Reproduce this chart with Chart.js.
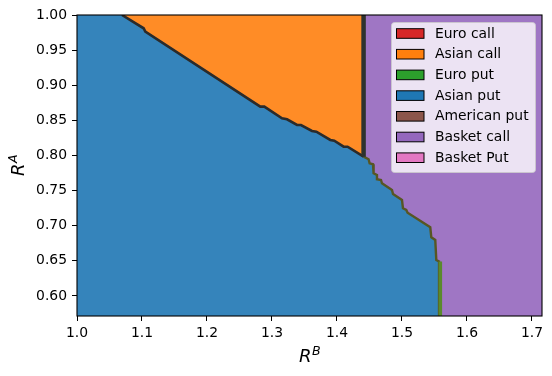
<!DOCTYPE html>
<html lang="en">
<head>
<meta charset="UTF-8">
<title>Option regions</title>
<script src="https://cdn.jsdelivr.net/npm/chart.js"></script>
<style>
  html, body { margin: 0; padding: 0; background: #fff; }
  #wrap { width: 552px; height: 376px; }
</style>
</head>
<body>
<div id="wrap"><canvas id="regions" width="552" height="376"></canvas></div>
<script>
// axis limits and ticks
const xLimits = [1.0, 1.7154];
const yLimits = [0.5715, 1.0];
const xTicks = [1.0, 1.1, 1.2, 1.3, 1.4, 1.5, 1.6, 1.7];
const yTicks = [0.60, 0.65, 0.70, 0.75, 0.80, 0.85, 0.90, 0.95, 1.00];

const legendNames = ['Euro call', 'Asian call', 'Euro put', 'Asian put', 'American put', 'Basket call', 'Basket Put'];
const legendColors = ['#d62728', '#ff7f0e', '#2ca02c', '#1f77b4', '#8c564b', '#9467bd', '#e377c2'];

// edge between Asian put (below) and Asian call (above)
const callEdgeX = [1.0692, 1.1025, 1.1051, 1.2820, 1.2882, 1.3154, 1.3231, 1.3385, 1.3446, 1.3615, 1.3682, 1.3897, 1.3958, 1.4102, 1.4163, 1.4409];
const callEdgeY = [1.000, 0.9811, 0.9763, 0.8695, 0.8695, 0.8529, 0.8515, 0.8434, 0.8434, 0.8349, 0.8339, 0.8221, 0.8211, 0.8125, 0.8125, 0.7983];

// edge between Asian put and Basket call (staircase)
const basketEdgeX = [1.4409, 1.4486, 1.4502, 1.4554, 1.4563, 1.4615, 1.4615, 1.4677, 1.4692, 1.4846, 1.4862, 1.5000, 1.5015, 1.5066, 1.5086, 1.5435, 1.5451, 1.5512, 1.5528, 1.5570, 1.5570];
const basketEdgeY = [0.7983, 0.7946, 0.7889, 0.7875, 0.7747, 0.7722, 0.7661, 0.7651, 0.7604, 0.7509, 0.7452, 0.7367, 0.7248, 0.7224, 0.7186, 0.6978, 0.6836, 0.6797, 0.6512, 0.6490, 0.5715];

// thin American put sliver between Asian call and Basket call
const americanX = [1.4409, 1.4409];
const americanY = [1.0, 0.7983];

// thin Euro put strip at the foot of the staircase
const euroPutX = [1.5590, 1.5590];
const euroPutY = [0.6490, 0.5715];

const pts = (xs, ys) => xs.map((x, i) => ({ x, y: ys[i] }));

const asianPutX = [xLimits[0]].concat(callEdgeX, basketEdgeX.slice(1));
const asianPutY = [yLimits[1]].concat(callEdgeY, basketEdgeY.slice(1));

function fillSet(label, data, color, order) {
  return { label, data, order, backgroundColor: color, borderWidth: 0, borderColor: color,
           fill: 'start', pointRadius: 0, tension: 0 };
}
function edgeSet(label, data, color, width, order) {
  return { label, data, order, borderColor: color, borderWidth: width, fill: false,
           borderJoinStyle: 'miter', borderCapStyle: 'butt', pointRadius: 0, tension: 0 };
}

const frameAndText = {
  id: 'frameAndText',
  afterDraw(chart) {
    const { ctx, chartArea: a } = chart;
    ctx.save();
    ctx.strokeStyle = '#000';
    ctx.lineWidth = 1.1;
    ctx.strokeRect(a.left, a.top, a.right - a.left, a.bottom - a.top);

    // legend box
    const bx = 391.5, by = 22.5, bw = 144, bh = 150;
    ctx.fillStyle = 'rgba(255,255,255,0.8)';
    ctx.strokeStyle = 'rgba(204,204,204,0.8)';
    ctx.lineWidth = 1;
    ctx.beginPath();
    ctx.roundRect(bx, by, bw, bh, 3);
    ctx.fill();
    ctx.stroke();
    ctx.font = '13.9px "DejaVu Sans"';
    ctx.textBaseline = 'middle';
    ctx.textAlign = 'left';
    legendNames.forEach((name, i) => {
      const cy = 33.5 + i * 20.7;
      ctx.fillStyle = legendColors[i];
      ctx.fillRect(396.5, cy - 4.8, 27.5, 9.6);
      ctx.strokeStyle = '#000';
      ctx.lineWidth = 1;
      ctx.strokeRect(396.5, cy - 4.8, 27.5, 9.6);
      ctx.fillStyle = '#000';
      ctx.fillText(name, 435, cy + 0.5);
    });

    // axis titles R^B and R^A
    const mathLabel = (x, y, sup, rot) => {
      ctx.save();
      ctx.translate(x, y);
      if (rot) ctx.rotate(-Math.PI / 2);
      ctx.fillStyle = '#000';
      ctx.textBaseline = 'alphabetic';
      ctx.textAlign = 'left';
      ctx.font = 'italic 12.6px "DejaVu Sans"';
      const sw = ctx.measureText(sup).width;
      ctx.font = 'italic 18px "DejaVu Sans"';
      const w = ctx.measureText('R').width;
      const x0 = -(w + sw) / 2;
      ctx.fillText('R', x0, 0);
      ctx.font = 'italic 12.6px "DejaVu Sans"';
      ctx.fillText(sup, x0 + w + 0.5, -7.5);
      ctx.restore();
    };
    mathLabel((a.left + a.right) / 2, 362, 'B', false);
    mathLabel(24, (a.top + a.bottom) / 2, 'A', true);
    ctx.restore();
  }
};

Chart.defaults.font.family = '"DejaVu Sans"';
Chart.defaults.font.size = 13.9;
Chart.defaults.color = '#000';

new Chart(document.getElementById('regions'), {
  type: 'line',
  data: {
    datasets: [
      edgeSet('American put', pts(americanX, americanY), '#2d322d', 4.5, 1),
      edgeSet('Asian call edge', pts(callEdgeX, callEdgeY), '#2b2b2b', 2.6, 2),
      edgeSet('Euro put', pts(euroPutX, euroPutY), '#5a8a2c', 3.5, 3),
      edgeSet('Basket call edge', pts(basketEdgeX, basketEdgeY), '#575624', 2.4, 4),
      fillSet('Asian put', pts(asianPutX, asianPutY), '#3584bb', 8),
      fillSet('Asian call', pts([xLimits[0], americanX[0]], [yLimits[1], yLimits[1]]), '#ff8c26', 9),
      fillSet('Basket call', pts(xLimits, [yLimits[1], yLimits[1]]), '#9f76c4', 10)
    ]
  },
  options: {
    responsive: false,
    animation: false,
    events: [],
    layout: { padding: { top: 15, right: 10, left: 0, bottom: 0 } },
    plugins: { legend: { display: false }, tooltip: { enabled: false } },
    scales: {
      x: {
        type: 'linear',
        min: xLimits[0], max: xLimits[1],
        afterFit: s => { s.height = 60; },
        afterBuildTicks: s => { s.ticks = xTicks.map(v => ({ value: v })); },
        ticks: { callback: v => v.toFixed(1), padding: 4, maxRotation: 0 },
        grid: { drawOnChartArea: false, drawTicks: true, tickLength: 5, color: '#000' },
        border: { display: false }
      },
      y: {
        type: 'linear',
        min: yLimits[0], max: yLimits[1],
        afterFit: s => { s.width = 77; },
        afterBuildTicks: s => { s.ticks = yTicks.map(v => ({ value: v })); },
        ticks: { callback: v => v.toFixed(2), padding: 5 },
        grid: { drawOnChartArea: false, drawTicks: true, tickLength: 5, color: '#000' },
        border: { display: false }
      }
    }
  },
  plugins: [frameAndText]
});
</script>
</body>
</html>
